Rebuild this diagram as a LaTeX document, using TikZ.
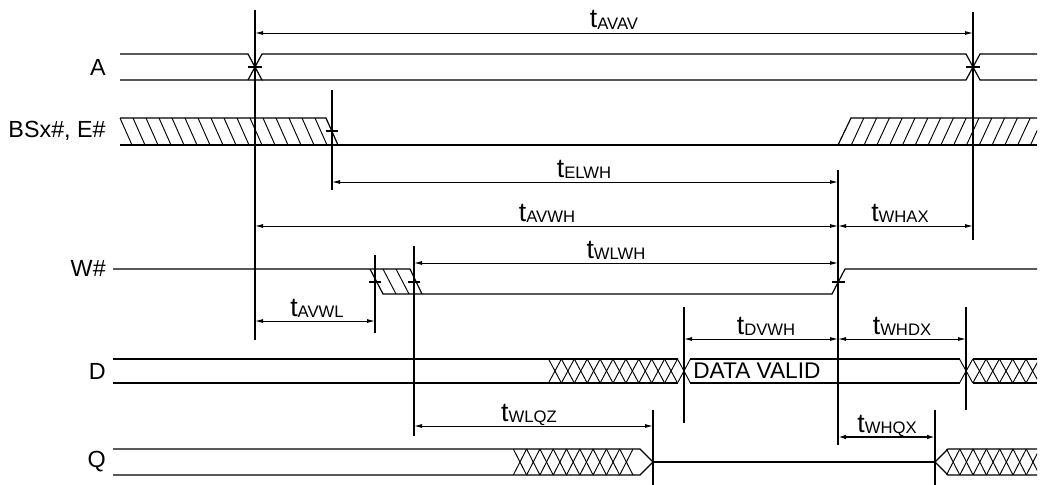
\documentclass[tikz,border=0pt]{standalone}
\usepackage{fontspec}
\setmainfont{Liberation Sans}
\usetikzlibrary{arrows.meta}
\newcommand\tsub[1]{t\raisebox{-1pt}{\fontsize{12.5}{14}\selectfont #1}}
\newcommand\myxhatch[5]{%
  \foreach \k in {1,...,#3}{%
    \draw[hatch] ({#1+(\k-1)*#2},#4) -- ({#1+\k*#2},#5);
    \draw[hatch] ({#1+(\k-1)*#2},#5) -- ({#1+\k*#2},#4);
  }}
\begin{document}
\begin{tikzpicture}[x=0.75pt,y=-0.75pt,
  sig/.style={line width=0.9pt, line join=miter},
  hatch/.style={line width=0.7pt},
  vline/.style={line width=0.9pt},
  tick/.style={line width=0.9pt},
  dim/.style={line width=0.7pt, {Latex[length=6pt,width=3pt]}-{Latex[length=6pt,width=3pt]}},
  dimthick/.style={line width=1.3pt, {Latex[length=6pt,width=3.5pt]}-{Latex[length=6pt,width=3.5pt]}},
  lbl/.style={font=\fontsize{17.5}{19}\selectfont, inner sep=0pt, anchor=east},
  tlab/.style={inner sep=0pt, anchor=base, font=\fontsize{20}{22}\selectfont},
]
\useasboundingbox (0,0) rectangle (1042,485);

% ---------- signal names ----------
\node[lbl] (nA) at (106,67) {A};
\node[lbl] (nB) at (106,131) {BSx\#, E\#};
\node[lbl] (nW) at (106,268) {W\#};
\node[lbl] (nD) at (106,371) {D};
\node[lbl] (nQ) at (106,462) {Q};

% ---------- A ----------
\draw[sig] (120,54) -- (248,54) -- (262,80) -- (120,80);
\draw[sig] (248,80) -- (262,54) -- (966,54) -- (980,80) -- (1037,80);
\draw[sig] (262,80) -- (966,80) -- (980,54) -- (1037,54);
\draw[tick] (248,67) -- (262,67);
\draw[tick] (966,67) -- (980,67);

% ---------- BSx#, E# ----------
\draw[sig] (120,118) -- (326,118) -- (338,145);
\draw[sig] (120,145) -- (1037,145);
\foreach \k in {0,...,15} \draw[hatch] ({120+13*\k},118) -- ({132+13*\k},145);
\draw[sig] (838,145) -- (851,118) -- (1037,118);
\begin{scope}
  \clip (851,110) rectangle (1037,150);
  \foreach \k in {1,...,15} \draw[hatch] ({851+12.8*\k},118) -- ({838.5+12.8*\k},145);
\end{scope}
\draw[tick] (326,131) -- (338,131);

% ---------- W# ----------
\draw[sig] (113,269) -- (410,269) -- (422,294);
\draw[sig] (370,269) -- (383,294) -- (832,294) -- (845,269) -- (1037,269);
\draw[hatch] (383,269) -- (396,294);
\draw[hatch] (396,269) -- (409,294);
\draw[tick] (369,282) -- (381,282);
\draw[tick] (408,282) -- (420,282);
\draw[tick] (832,282) -- (845,282);

% ---------- D ----------
\draw[sig] (113,359) -- (677.5,359);
\draw[sig] (113,383) -- (677.5,383);
\myxhatch{548.5}{12.9}{11}{359}{383}
\draw[sig] (690.4,359) -- (959.5,359);
\draw[sig] (690.4,383) -- (959.5,383);
\begin{scope}
  \clip (950,350) rectangle (1037,390);
  \myxhatch{959.5}{13.3}{6}{359}{383}
\end{scope}
\draw[sig] (972.8,359) -- (1037,359);
\draw[sig] (972.8,383) -- (1037,383);
\node[inner sep=0pt, anchor=west, font=\fontsize{17}{19}\selectfont] (dv) at (693,371) {DATA VALID};

% ---------- Q ----------
\draw[sig] (113,449) -- (640,449) -- (653,462) -- (640,475) -- (113,475);
\myxhatch{513.3}{13.3}{9}{449}{475}
\draw[sig] (653,462) -- (935,462);
\draw[sig] (1037,449) -- (948,449) -- (935,462) -- (948,475) -- (1037,475);
\begin{scope}
  \clip (940,440) rectangle (1037,480);
  \myxhatch{946.5}{13.3}{7}{449}{475}
\end{scope}

% ---------- reference verticals ----------
\coordinate (v1t) at (255,10);   \coordinate (v1b) at (255,340);
\coordinate (v2t) at (973,12);   \coordinate (v2b) at (973,240);
\coordinate (v3t) at (332,90);   \coordinate (v3b) at (332,190);
\coordinate (v4t) at (375,255);  \coordinate (v4b) at (375,333);
\coordinate (v5t) at (414,246);  \coordinate (v5b) at (414,436);
\coordinate (v6t) at (838,170);  \coordinate (v6b) at (838,445);
\coordinate (v7t) at (684,307);  \coordinate (v7b) at (684,423);
\coordinate (v8t) at (966,307);  \coordinate (v8b) at (966,410);
\coordinate (v9t) at (653,410);  \coordinate (v9b) at (653,485);
\coordinate (v10t) at (935,410); \coordinate (v10b) at (935,485);
\foreach \v in {v1,v2,v3,v4,v5,v6,v7,v8,v9,v10} \draw[vline] (\v t) -- (\v b);

% ---------- dimension arrows ----------
\coordinate (avavL) at (255,33);  \coordinate (avavR) at (973,33);
\coordinate (elwhL) at (332,182); \coordinate (elwhR) at (838,182);
\coordinate (avwhL) at (255,226); \coordinate (avwhR) at (838,226);
\coordinate (whaxL) at (838,226); \coordinate (whaxR) at (973,226);
\coordinate (wlwhL) at (414,263); \coordinate (wlwhR) at (838,263);
\coordinate (avwlL) at (255,321); \coordinate (avwlR) at (375,321);
\coordinate (dvwhL) at (684,339); \coordinate (dvwhR) at (838,339);
\coordinate (whdxL) at (838,339); \coordinate (whdxR) at (966,339);
\coordinate (wlqzL) at (414,426); \coordinate (wlqzR) at (653,426);
\coordinate (whqxL) at (838,437); \coordinate (whqxR) at (935,437);

\draw[dim] (avavL) -- (avavR);
\draw[dim] (elwhL) -- (elwhR);
\draw[dim] (avwhL) -- (avwhR);
\draw[dim] (whaxL) -- (whaxR);
\draw[dim] (wlwhL) -- (wlwhR);
\draw[dim] (avwlL) -- (avwlR);
\draw[dim] (dvwhL) -- (dvwhR);
\draw[dim] (whdxL) -- (whdxR);
\draw[dim] (wlqzL) -- (wlqzR);
\draw[dimthick] (whqxL) -- (whqxR);

% ---------- timing labels ----------
\node[tlab] (tAVAV) at (614,28) {\tsub{AVAV}};
\node[tlab] (tELWH) at (584,177) {\tsub{ELWH}};
\node[tlab] (tAVWH) at (547,221) {\tsub{AVWH}};
\node[tlab] (tWHAX) at (900,221) {\tsub{WHAX}};
\node[tlab] (tWLWH) at (616,258) {\tsub{WLWH}};
\node[tlab] (tAVWL) at (317,316) {\tsub{AVWL}};
\node[tlab] (tDVWH) at (766,334) {\tsub{DVWH}};
\node[tlab] (tWHDX) at (902,334) {\tsub{WHDX}};
\node[tlab] (tWLQZ) at (529,421) {\tsub{WLQZ}};
\node[tlab] (tWHQX) at (887,432) {\tsub{WHQX}};
\end{tikzpicture}
\end{document}
